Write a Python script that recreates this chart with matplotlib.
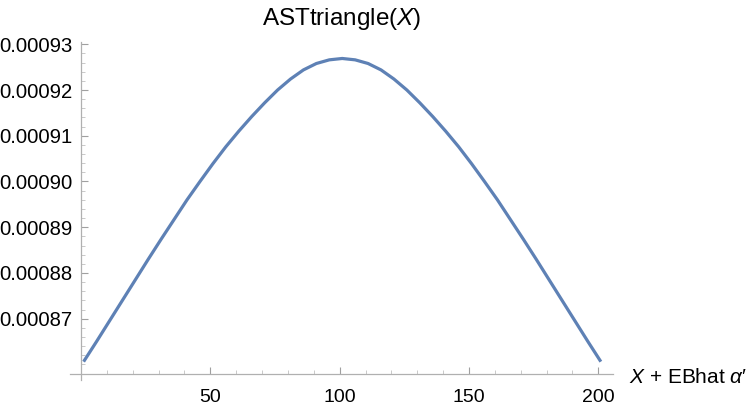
import matplotlib
matplotlib.use("Agg")
import matplotlib.pyplot as plt
from matplotlib.ticker import MultipleLocator, FixedLocator, FuncFormatter

plt.rcParams['font.family'] = ['Liberation Sans', 'DejaVu Sans']
plt.rcParams['mathtext.fontset'] = 'custom'
plt.rcParams['mathtext.rm'] = 'Liberation Sans'
plt.rcParams['mathtext.it'] = 'Liberation Sans:italic'

# data (x from 1 to 201, step 5)
x_vals = [1, 6, 11, 16, 21, 26, 31, 36, 41, 46, 51, 56, 61, 66, 71, 76, 81, 86, 91, 96,
          101, 106, 111, 116, 121, 126, 131, 136, 141, 146, 151, 156, 161, 166, 171,
          176, 181, 186, 191, 196, 201]
y_vals = [0.0008606, 0.0008650, 0.0008695, 0.0008740, 0.0008785, 0.0008830,
          0.0008874, 0.0008917, 0.0008960, 0.0009000, 0.0009039, 0.0009076,
          0.0009110, 0.0009142, 0.0009172, 0.0009200, 0.0009224, 0.0009244,
          0.0009258, 0.0009266, 0.0009269,
          0.0009266, 0.0009258, 0.0009244, 0.0009224, 0.0009200, 0.0009172,
          0.0009142, 0.0009110, 0.0009076, 0.0009039, 0.0009000, 0.0008960,
          0.0008917, 0.0008874, 0.0008830, 0.0008785, 0.0008740, 0.0008695,
          0.0008650, 0.0008606]
x_ticks = [50, 100, 150, 200]
y_ticks = [0.00087, 0.00088, 0.00089, 0.00090, 0.00091, 0.00092, 0.00093]
title = r"ASTtriangle($\mathit{X}$)"
xlabel = r"$\mathit{X}$ + EBhat $\mathit{\alpha}$′"

W, H = 750, 411
fig = plt.figure(figsize=(W / 100, H / 100), dpi=100)
left_px, right_px = 69.9, 613.0
top_px, bot_px = 42.0, 380.0
ax = fig.add_axes([left_px / W, 1 - bot_px / H, (right_px - left_px) / W, (bot_px - top_px) / H])
ax.set_xlim(-4.3, 205.7)
# y: 0.00093 at px 44.3, 45.73 px per 1e-5
ppu = 45.73 / 1e-5
ax.set_ylim(0.00093 - (bot_px - 44.3) / ppu, 0.00093 + (44.3 - top_px) / ppu)

ax.plot(x_vals, y_vals, color='#5E81B5', lw=2.3, solid_capstyle='butt', solid_joinstyle='round')

for s in ['top', 'right']:
    ax.spines[s].set_visible(False)
ax.spines['left'].set_position(('data', 0))
ax.spines['bottom'].set_position(('data', 0.00093 - (374 - 44.3) / ppu))
for s in ['left', 'bottom']:
    ax.spines[s].set_color('#b0b0b0')
    ax.spines[s].set_linewidth(0.9)

ax.xaxis.set_major_locator(FixedLocator(x_ticks))
ax.xaxis.set_minor_locator(MultipleLocator(10))
ax.yaxis.set_major_locator(FixedLocator(y_ticks))
ax.yaxis.set_minor_locator(MultipleLocator(0.000002))
ax.yaxis.set_major_formatter(FuncFormatter(lambda v, p: f"{v:.5f}"))

ax.tick_params(which='major', direction='in', length=5, width=0.8, color='#a0a0a0', labelsize=14, labelcolor='black')
ax.tick_params(which='minor', direction='in', length=3, width=0.6, color='#c0c0c0')
ax.tick_params(axis='x', which='major', pad=11)
ax.tick_params(axis='y', which='major', pad=6, labelsize=14.6)

fig.text(341.5 / W, 1 - 25 / H, title, fontsize=17.5, ha='center', va='baseline')
fig.text(629 / W, 1 - 383.3 / H, xlabel, fontsize=15, ha='left', va='baseline')

fig.savefig('out.png', dpi=100)
